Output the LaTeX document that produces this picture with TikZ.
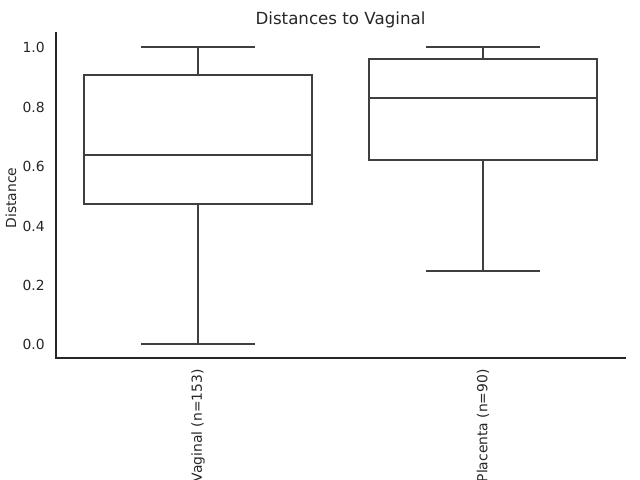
\documentclass[tikz,border=0pt]{standalone}
\usepackage{fontspec}
\setmainfont{DejaVu Sans}
\usepackage{tikz}
\usetikzlibrary{calc,positioning}
\definecolor{boxgray}{HTML}{3F3F3F}
\definecolor{axisgray}{HTML}{262626}

\begin{document}
\begin{tikzpicture}[x=0.72pt,y=-0.72pt,
  boxline/.style={draw=boxgray,line width=1.5pt},
  spine/.style={draw=axisgray,line width=0.9pt},
  ticklabel/.style={text=axisgray,font=\fontsize{10}{12}\selectfont,anchor=base east,inner sep=0pt,yshift=-4.3pt},
  catlabel/.style={text=axisgray,font=\fontsize{10}{12}\selectfont,rotate=90,anchor=east,inner sep=0pt},
  titletext/.style={text=axisgray,font=\fontsize{12}{14}\selectfont,anchor=base,inner sep=0pt}]
\useasboundingbox (0,0) rectangle (640,480);
\node[titletext] (title) at (340.5,24) {Distances to Vaginal};
\coordinate (spineTop) at (56,32);
\coordinate (O) at (56,358);
\coordinate (spineEnd) at (626,358);
\draw[spine] (spineTop) -- (O) -- (spineEnd);
\node[text=axisgray,font=\fontsize{10}{12}\selectfont,rotate=90,inner sep=0pt] (ylab) at (11,198) {Distance};
\begin{scope}[shift={(0,344)},y=213.84pt]
% y ticks
\node[ticklabel] (t0) at (45,0) {0.0};
\node[ticklabel] (t2) at (45,0.2) {0.2};
\node[ticklabel] (t4) at (45,0.4) {0.4};
\node[ticklabel] (t6) at (45,0.6) {0.6};
\node[ticklabel] (t8) at (45,0.8) {0.8};
\node[ticklabel] (t10) at (45,1.0) {1.0};
% Vaginal
\coordinate (Vq1) at (198,0.470);
\coordinate (Vq3) at (198,0.906);
\coordinate (Vlo) at (198,0);
\coordinate (Vhi) at (198,1.0);
\draw[boxline] (84,0.470) rectangle (312,0.906);
\draw[boxline] (84,0.637) -- (312,0.637);
\draw[boxline] (Vq1) -- (Vlo);
\draw[boxline] (Vq3) -- (Vhi);
\draw[boxline] ($(Vlo)+(-57,0)$) -- ($(Vlo)+(57,0)$);
\draw[boxline] ($(Vhi)+(-57,0)$) -- ($(Vhi)+(57,0)$);
% Placenta
\coordinate (Pq1) at (483,0.621);
\coordinate (Pq3) at (483,0.960);
\coordinate (Plo) at (483,0.247);
\coordinate (Phi) at (483,1.0);
\draw[boxline] (369,0.621) rectangle (597,0.960);
\draw[boxline] (369,0.828) -- (597,0.828);
\draw[boxline] (Pq1) -- (Plo);
\draw[boxline] (Pq3) -- (Phi);
\draw[boxline] ($(Plo)+(-57,0)$) -- ($(Plo)+(57,0)$);
\draw[boxline] ($(Phi)+(-57,0)$) -- ($(Phi)+(57,0)$);
\end{scope}
\node[catlabel] (labV) at (198,369) {Vaginal (n=153)};
\node[catlabel] (labP) at (483,369) {Placenta (n=90)};
\end{tikzpicture}
\end{document}
